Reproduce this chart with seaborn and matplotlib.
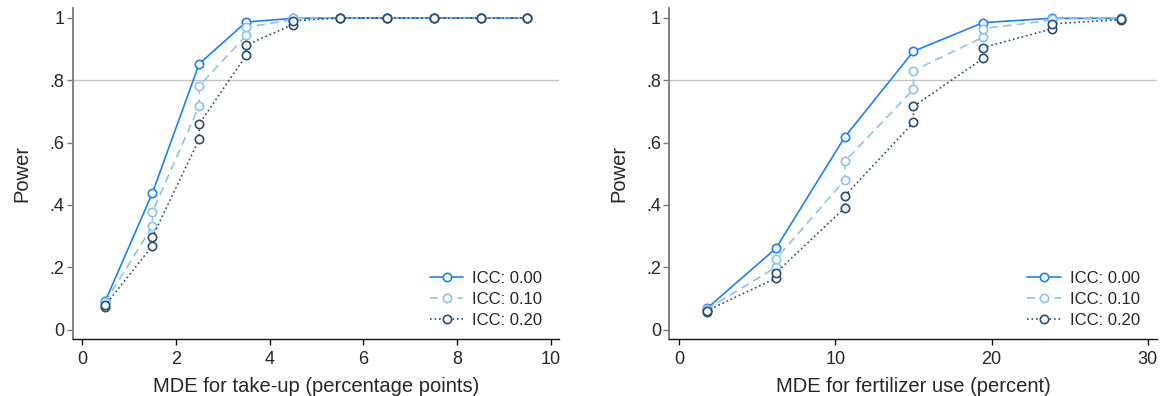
import numpy as np
import pandas as pd
import matplotlib
matplotlib.use("Agg")
import matplotlib.pyplot as plt
import seaborn as sns

# ---- data ----
icc_labels = ["ICC: 0.00", "ICC: 0.10", "ICC: 0.20"]

left_mde = [0.5, 1.5, 2.5, 3.5, 4.5, 5.5, 6.5, 7.5, 8.5, 9.5]
left_icc00 = [0.093, 0.438, 0.853, 0.987, 0.999, 1.0, 1.0, 1.0, 1.0, 1.0]
left_icc10_hi = [0.090, 0.377, 0.782, 0.970, 0.999, 1.0, 1.0, 1.0, 1.0, 1.0]
left_icc10_lo = [0.086, 0.331, 0.719, 0.944, 0.995, 1.0, 1.0, 1.0, 1.0, 1.0]
left_icc20_hi = [0.079, 0.297, 0.660, 0.913, 0.991, 1.0, 1.0, 1.0, 1.0, 1.0]
left_icc20_lo = [0.074, 0.269, 0.611, 0.880, 0.979, 1.0, 1.0, 1.0, 1.0, 1.0]

right_mde = [1.77, 6.19, 10.6, 15.0, 19.45, 23.85, 28.3]
right_icc00 = [0.068, 0.261, 0.618, 0.893, 0.985, 0.999, 0.999]
right_icc10_hi = [0.066, 0.227, 0.540, 0.831, 0.966, 0.998, 0.998]
right_icc10_lo = [0.064, 0.200, 0.480, 0.771, 0.938, 0.993, 0.997]
right_icc20_hi = [0.061, 0.182, 0.429, 0.716, 0.905, 0.981, 0.997]
right_icc20_lo = [0.058, 0.165, 0.391, 0.665, 0.870, 0.965, 0.995]

left_xlabel = "MDE for take-up (percentage points)"
right_xlabel = "MDE for fertilizer use (percent)"
ylabel = "Power"
yticks = [0, 0.2, 0.4, 0.6, 0.8, 1.0]
yticklabels = ["0", ".2", ".4", ".6", ".8", "1"]
left_xticks = [0, 2, 4, 6, 8, 10]
right_xticks = [0, 10, 20, 30]
target_power = 0.8


def series(x, lo, hi=None):
    xs, ys = [], []
    for i, xv in enumerate(x):
        if hi is None:
            xs.append(xv); ys.append(lo[i])
        else:
            xs += [xv, xv]; ys += [lo[i], hi[i]]
    return pd.DataFrame({"x": xs, "y": ys})


# ---- style ----
sns.set_theme(style="white")
plt.rcParams["font.family"] = ["Liberation Sans", "DejaVu Sans"]

colors = ["#1a82f2", "#8cc3ee", "#2a4e72"]
dash_styles = [None, (5.0, 3.2), (1.0, 1.7)]

fig = plt.figure(figsize=(11.61, 3.96), dpi=100)
ax1 = fig.add_axes([0.0626, 0.144, 0.4191, 0.835])
ax2 = fig.add_axes([0.5765, 0.144, 0.4198, 0.835])

panels = [
    (ax1, left_mde, [(left_icc00, None), (left_icc10_lo, left_icc10_hi), (left_icc20_lo, left_icc20_hi)],
     left_xlabel, left_xticks, (-0.2, 10.18)),
    (ax2, right_mde, [(right_icc00, None), (right_icc10_lo, right_icc10_hi), (right_icc20_lo, right_icc20_hi)],
     right_xlabel, right_xticks, (-0.64, 30.58)),
]

for ax, xs, sers, xlabel, xticks, xlim in panels:
    ax.axhline(target_power, color="#c4c4c4", lw=1.0, zorder=0)
    for k, (lo, hi) in enumerate(sers):
        df = series(xs, lo, hi)
        kw = dict(color=colors[k], lw=1.2, marker="o", markersize=6,
                  markerfacecolor="white", markeredgecolor=colors[k],
                  markeredgewidth=1.2)
        line_ax = sns.lineplot(data=df, x="x", y="y", ax=ax, estimator=None,
                               sort=False, label=icc_labels[k], **kw)
        ln = line_ax.get_lines()[-1]
        if dash_styles[k] is not None:
            ln.set_dashes(dash_styles[k])
    ax.set_xlim(*xlim)
    ax.set_ylim(-0.03, 1.031)
    ax.set_yticks(yticks)
    ax.set_yticklabels(yticklabels)
    ax.set_xticks(xticks)
    ax.set_xlabel(xlabel, fontsize=14.5, labelpad=6)
    ax.set_ylabel(ylabel, fontsize=14.5, labelpad=13)
    for s in ["top", "right"]:
        ax.spines[s].set_visible(False)
    ax.spines["left"].set_color("#7a7a7a")
    ax.spines["left"].set_linewidth(1.3)
    ax.spines["bottom"].set_color("#111111")
    ax.spines["bottom"].set_linewidth(1.0)
    ax.tick_params(axis="y", which="major", direction="out", length=4.5, width=1.0,
                   color="#7a7a7a", labelsize=13, pad=1.5, left=True)
    ax.tick_params(axis="x", which="major", direction="out", length=4.5, width=1.0,
                   color="#111111", labelsize=13, pad=4.5, bottom=True)
    ax.legend(loc="lower right", bbox_to_anchor=(1.0, -0.018), frameon=False,
              fontsize=12, handlelength=2.0, handletextpad=0.55,
              labelspacing=0.38, borderaxespad=0.6)

fig.savefig("out.png", dpi=100)
